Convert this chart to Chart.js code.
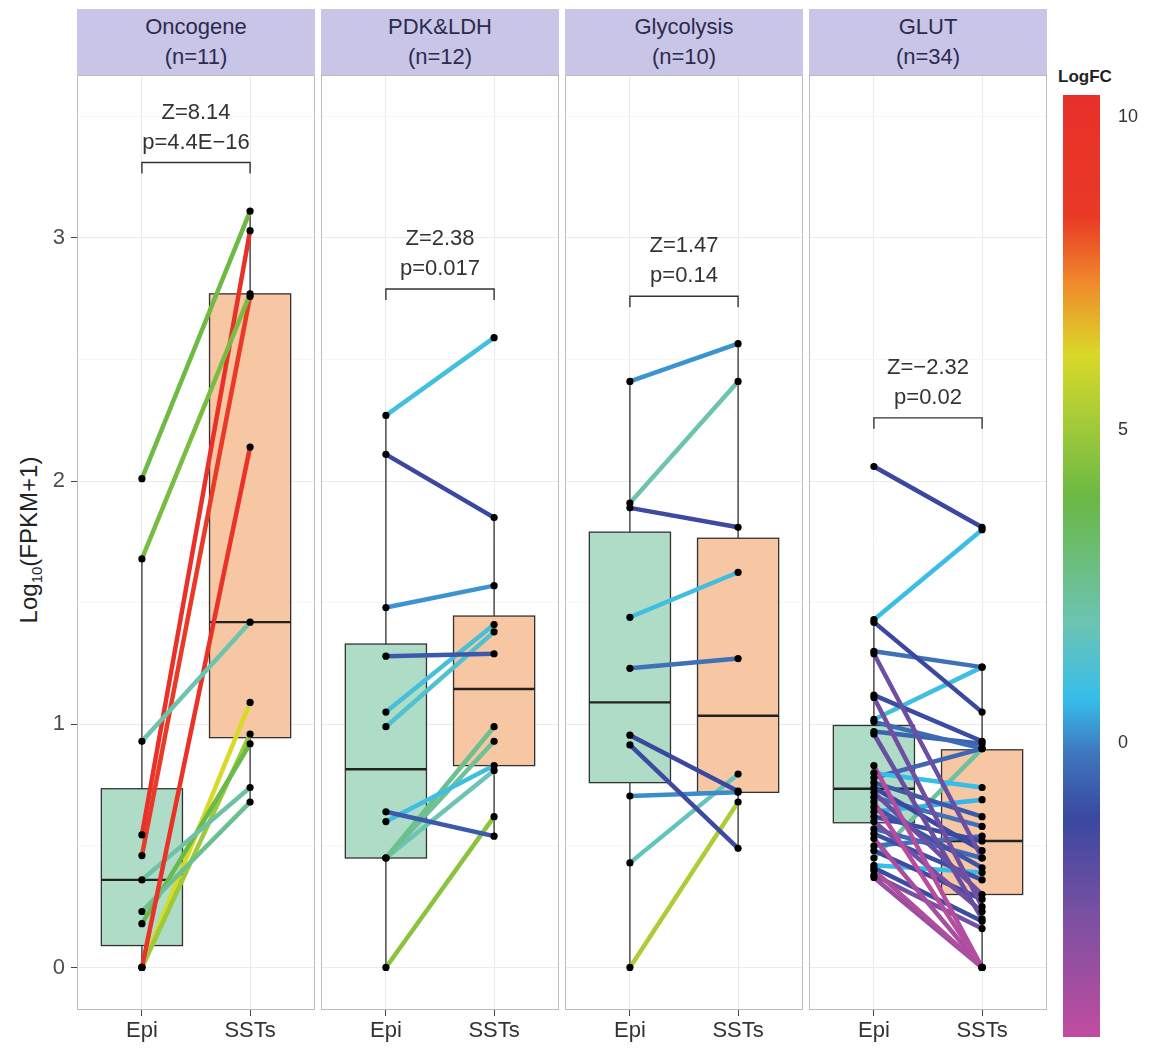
<!DOCTYPE html>
<html>
<head>
<meta charset="utf-8">
<script src="https://cdn.jsdelivr.net/npm/chart.js@4.4.1/dist/chart.umd.min.js"></script>
<style>
  body { margin: 0; background: #fff; width: 1157px; height: 1052px; position: relative; overflow: hidden;
         font-family: "Liberation Sans", Arial, sans-serif; }
  .strip { position: absolute; top: 9px; height: 66px; width: 238px; background: #c9c5e7; color: #2b2b50;
           font-size: 22px; line-height: 30px; text-align: center; padding-top: 3px; box-sizing: border-box; }
  .panel { position: absolute; top: 75px; height: 977px; }
  #ytitle { position: absolute; left: 30px; top: 540px; transform: translate(-50%, -50%) rotate(-90deg);
            font-size: 24px; color: #222; white-space: nowrap; }
  #ytitle sub { font-size: 15px; }
  #fctitle { position: absolute; left: 1058px; top: 67px; font-size: 17px; font-weight: bold; color: #222; }
  #bar { position: absolute; left: 1050px; top: 60px; }
</style>
</head>
<body>
<div id="ytitle">Log<sub>10</sub>(FPKM+1)</div>
<div id="fctitle">LogFC</div>
<canvas id="bar" width="107" height="992"></canvas>
<script>
'use strict';

// facets
var panelNames = ['Oncogene', 'PDK&LDH', 'Glycolysis', 'GLUT'];
var panelN = [11, 12, 10, 34];
var groups = ['Epi', 'SSTs'];
var zScores = ['Z=8.14', 'Z=2.38', 'Z=1.47', 'Z=\u22122.32'];
var pValues = ['p=4.4E\u221216', 'p=0.017', 'p=0.14', 'p=0.02'];
var bracketY = [3.31, 2.79, 2.76, 2.26];
var yTicks = [0, 1, 2, 3];
var fcTicks = [0, 5, 10];

// paired values, Log10(FPKM+1), and LogFC of each gene
var oncoEpi = [2.01, 1.68, 0.93, 0.545, 0.46, 0, 0.36, 0.23, 0.18, 0, 0];
var oncoSst = [3.11, 2.77, 1.42, 3.03, 2.76, 2.14, 0.74, 0.68, 0.92, 0.96, 1.09];
var oncoFc  = [4.0, 4.2, 2.0, 10.0, 8.6, 9.8, 2.2, 2.6, 3.8, 5.0, 6.2];

var pdkEpi = [2.27, 2.11, 1.48, 1.28, 1.05, 0.99, 0.64, 0.60, 0.45, 0.45, 0.45, 0];
var pdkSst = [2.59, 1.85, 1.57, 1.29, 1.41, 1.38, 0.54, 0.83, 0.99, 0.93, 0.81, 0.62];
var pdkFc  = [1.0, -1.2, 0.2, -0.8, 1.1, 1.3, -0.8, 0.9, 2.6, 2.4, 1.9, 4.6];

var glyEpi = [2.41, 1.91, 1.89, 1.44, 1.23, 0.955, 0.915, 0.705, 0.43, 0];
var glySst = [2.565, 2.41, 1.81, 1.625, 1.27, 0.725, 0.49, 0.72, 0.795, 0.68];
var glyFc  = [0.2, 2.0, -1.3, 0.9, -0.3, -1.2, -1.3, 0.1, 1.7, 5.3];

var glutEpi = [2.06, 1.43, 1.42, 1.30, 1.29, 1.12, 1.11, 1.02, 1.01, 0.97, 0.96, 0.83, 0.80, 0.78, 0.76, 0.74, 0.72,
               0.70, 0.68, 0.66, 0.64, 0.62, 0.60, 0.57, 0.55, 0.53, 0.50, 0.48, 0.45, 0.42, 0.41, 0.40, 0.38, 0.37];
var glutSst = [1.81, 1.80, 1.05, 1.235, 0.45, 0.93, 0.25, 1.235, 0.90, 0.92, 0.20, 0, 0.74, 0.90, 0.62, 0.48, 0.30,
               0.58, 0, 0.41, 0.69, 0.52, 0.23, 0.45, 0.36, 0, 0.54, 0.28, 0.90, 0.39, 0.19, 0, 0.16, 0];
var glutFc  = [-1.2, 0.8, -1.2, -0.3, -2.4, -1.1, -2.5, 0.9, -0.4, -0.6, -2.3, -4.3, 0.7, -0.5, -0.8, -1.2, -2.4,
               -0.3, -4.4, -0.9, 0.6, -1.1, -2.6, -0.4, -1.0, -4.0, -0.2, -1.3, 2.3, 0.7, -1.1, -4.2, -2.7, -3.6];

// box stats: [lower whisker, Q1, median, Q3, upper whisker]
var oncoBox = [[0, 0.09, 0.36, 0.735, 1.68], [0.68, 0.945, 1.42, 2.77, 3.11]];
var pdkBox  = [[0, 0.45, 0.815, 1.33, 2.27], [0.54, 0.83, 1.145, 1.445, 1.85]];
var glyBox  = [[0, 0.76, 1.09, 1.79, 2.41], [0.49, 0.72, 1.035, 1.765, 2.565]];
var glutBox = [[0.37, 0.595, 0.735, 0.995, 1.43], [0, 0.30, 0.52, 0.895, 1.235]];

// colour scale of LogFC
var fcMin = -4.7, fcMax = 10.36;
var fcStopVals = [10.36, 8.4, 7.35, 6.2, 5.2, 3.9, 1.9, 0.7, -0.2, -1.2, -2.7, -4.7];
var fcStopCols = ['#e8302a', '#ea3a26', '#f08a2c', '#d9d928', '#a8cc38', '#6ab845', '#6cc4b4', '#36bdea',
                  '#3f74bb', '#3a48a0', '#7850a2', '#c24c9e'];

var boxFill = ['#aedcc6', '#f7c6a3'];
var panelLeft = [77, 321, 565, 809];
var panelW = 238;
var yMin = -0.175, yMax = 3.67;

Chart.defaults.font.family = '"Liberation Sans", Arial, sans-serif';
Chart.defaults.color = '#333';

function hexRgb(h) {
    return [parseInt(h.substr(1, 2), 16), parseInt(h.substr(3, 2), 16), parseInt(h.substr(5, 2), 16)];
}
function fcColor(v) {
    for (var i = 0; i < fcStopVals.length - 1; i++) {
        var a = fcStopVals[i], b = fcStopVals[i + 1];
        if (v <= a && v >= b) {
            var t = (a - v) / (a - b), c1 = hexRgb(fcStopCols[i]), c2 = hexRgb(fcStopCols[i + 1]);
            return 'rgb(' + [0, 1, 2].map(function (k) { return Math.round(c1[k] + (c2[k] - c1[k]) * t); }).join(',') + ')';
        }
    }
    return v > fcMax ? fcStopCols[0] : fcStopCols[fcStopCols.length - 1];
}

// no extra room around the plot area, the panels must line up
function noPad(s) {
    s.paddingTop = 0; s.paddingBottom = 0; s.paddingLeft = 0; s.paddingRight = 0;
}

var boxPlugin = {
    id: 'boxes',
    beforeDatasetsDraw: function (chart, args, opts) {
        var ctx = chart.ctx, x = chart.scales.x, y = chart.scales.y;
        opts.boxes.forEach(function (b, i) {
            var cx = x.getPixelForValue(i + 1);
            var l = x.getPixelForValue(i + 1 - 0.375), r = x.getPixelForValue(i + 1 + 0.375);
            var top = y.getPixelForValue(b[3]), bot = y.getPixelForValue(b[1]);
            ctx.save();
            ctx.strokeStyle = '#333';
            ctx.lineWidth = 1.3;
            ctx.beginPath();
            ctx.moveTo(cx, y.getPixelForValue(b[0])); ctx.lineTo(cx, bot);
            ctx.moveTo(cx, top); ctx.lineTo(cx, y.getPixelForValue(b[4]));
            ctx.stroke();
            ctx.fillStyle = boxFill[i];
            ctx.fillRect(l, top, r - l, bot - top);
            ctx.strokeRect(l, top, r - l, bot - top);
            ctx.lineWidth = 2.4;
            ctx.strokeStyle = '#222';
            ctx.beginPath();
            ctx.moveTo(l, y.getPixelForValue(b[2])); ctx.lineTo(r, y.getPixelForValue(b[2]));
            ctx.stroke();
            ctx.restore();
        });
    },
    afterDraw: function (chart, args, opts) {
        var ctx = chart.ctx, x = chart.scales.x, y = chart.scales.y, a = chart.chartArea;
        var x1 = x.getPixelForValue(1), x2 = x.getPixelForValue(2), by = y.getPixelForValue(opts.bracket);
        ctx.save();
        ctx.strokeStyle = '#333';
        ctx.lineWidth = 1.4;
        ctx.beginPath();
        ctx.moveTo(x1, by + 11); ctx.lineTo(x1, by); ctx.lineTo(x2, by); ctx.lineTo(x2, by + 11);
        ctx.stroke();
        ctx.fillStyle = '#333';
        ctx.font = '22px "Liberation Sans", Arial, sans-serif';
        ctx.textAlign = 'center';
        ctx.textBaseline = 'middle';
        ctx.fillText(opts.z, (x1 + x2) / 2, by - 50);
        ctx.fillText(opts.p, (x1 + x2) / 2, by - 20);
        ctx.strokeStyle = '#bcbcbc';
        ctx.lineWidth = 1;
        ctx.strokeRect(a.left + 0.5, a.top + 0.5, a.right - a.left - 1, a.bottom - a.top - 1);
        ctx.restore();
    }
};

function makePanel(k, epi, sst, fc, box) {
    var strip = document.createElement('div');
    strip.className = 'strip';
    strip.style.left = panelLeft[k] + 'px';
    strip.innerHTML = panelNames[k].replace('&', '&amp;') + '<br>(n=' + panelN[k] + ')';
    document.body.appendChild(strip);

    var first = k === 0;
    var cv = document.createElement('canvas');
    cv.className = 'panel';
    var left = first ? 0 : panelLeft[k];
    var w = panelLeft[k] + panelW - left;
    cv.width = w; cv.height = 977;
    cv.style.left = left + 'px';
    document.body.appendChild(cv);

    var datasets = [{
        type: 'scatter',
        data: epi.map(function (v) { return {x: 1, y: v}; }).concat(sst.map(function (v) { return {x: 2, y: v}; })),
        backgroundColor: '#000', borderWidth: 0, pointRadius: 3.6, order: 0
    }];
    epi.forEach(function (v, i) {
        datasets.push({
            type: 'line', data: [{x: 1, y: v}, {x: 2, y: sst[i]}],
            borderColor: fcColor(fc[i]), borderWidth: 4.5, pointRadius: 0, order: 1, clip: false
        });
    });

    new Chart(cv, {
        data: {datasets: datasets},
        options: {
            responsive: false, animation: false, events: [],
            layout: {padding: 0, autoPadding: false},
            plugins: {legend: {display: false}, tooltip: {enabled: false},
                      boxes: {boxes: box, bracket: bracketY[k], z: zScores[k], p: pValues[k]}},
            scales: {
                x: {
                    type: 'linear', min: 0.4, max: 2.6,
                    afterBuildTicks: function (s) { s.ticks = [{value: 1}, {value: 2}]; },
                    afterFit: function (s) { s.height = 42; noPad(s); },
                    ticks: {font: {size: 22}, color: '#333', padding: 2,
                            callback: function (v) { return groups[v - 1]; }},
                    grid: {color: '#ebebeb', tickColor: '#444', tickLength: 6, lineWidth: 1},
                    border: {display: false}
                },
                y: {
                    min: yMin, max: yMax,
                    afterBuildTicks: function (s) {
                        s.ticks = [0, 0.5, 1, 1.5, 2, 2.5, 3, 3.5].map(function (v) { return {value: v}; });
                    },
                    afterFit: function (s) { s.width = first ? 77 : 0; noPad(s); },
                    ticks: {display: first, font: {size: 22}, color: '#4d4d4d', padding: 6,
                            callback: function (v) { return yTicks.indexOf(v) >= 0 ? String(v) : ''; }},
                    grid: {
                        drawTicks: first, tickLength: 6,
                        color: function (c) { return c.tick && yTicks.indexOf(c.tick.value) >= 0 ? '#ebebeb' : '#f6f6f6'; },
                        tickColor: function (c) { return c.tick && yTicks.indexOf(c.tick.value) >= 0 ? '#444' : 'rgba(0,0,0,0)'; }
                    },
                    border: {display: false}
                }
            }
        },
        plugins: [boxPlugin]
    });
}

makePanel(0, oncoEpi, oncoSst, oncoFc, oncoBox);
makePanel(1, pdkEpi, pdkSst, pdkFc, pdkBox);
makePanel(2, glyEpi, glySst, glyFc, glyBox);
makePanel(3, glutEpi, glutSst, glutFc, glutBox);

// colour bar legend
var gradPlugin = {
    id: 'grad',
    beforeDatasetsDraw: function (chart) {
        var ctx = chart.ctx, a = chart.chartArea, y = chart.scales.y;
        var g = ctx.createLinearGradient(0, y.getPixelForValue(fcMax), 0, y.getPixelForValue(fcMin));
        fcStopVals.forEach(function (v, i) { g.addColorStop((fcMax - v) / (fcMax - fcMin), fcStopCols[i]); });
        ctx.save();
        ctx.fillStyle = g;
        ctx.fillRect(a.left, a.top, a.right - a.left, a.bottom - a.top);
        ctx.restore();
    }
};
new Chart(document.getElementById('bar'), {
    type: 'bar',
    data: {labels: [''], datasets: []},
    options: {
        responsive: false, animation: false, events: [],
        layout: {padding: {left: 13, top: 35, bottom: 15, right: 0}, autoPadding: false},
        plugins: {legend: {display: false}, tooltip: {enabled: false}},
        scales: {
            x: {display: false},
            y: {
                position: 'right', min: fcMin, max: fcMax,
                afterBuildTicks: function (s) { s.ticks = fcTicks.map(function (v) { return {value: v}; }); },
                afterFit: function (s) { s.width = 57; noPad(s); },
                ticks: {font: {size: 18}, color: '#333', padding: 10},
                grid: {display: false},
                border: {display: false}
            }
        }
    },
    plugins: [gradPlugin]
});
</script>
</body>
</html>
